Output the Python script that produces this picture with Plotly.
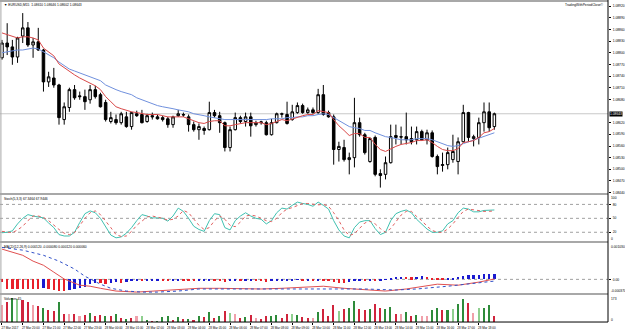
import plotly.graph_objects as go

W, H = 625, 331
R_MARGIN = 15

# ---------------- data ----------------
title_main = "EURUSD,M15  1.08610 1.08646 1.08602 1.08643"
title_stoch = "Stoch(5,3,3) 67.3464 67.9446"
title_macd = "MACD(12,26,9) 0.000120 -0.000080 0.000120 0.000060"
title_vol = "Volumes 45"
brand = "TradingWithPeriodClose\u00a9"

open_ = [1.08787,1.08825,1.08815,1.08789,1.08843,1.08864,1.08820,1.08828,1.08807,1.08725,
 1.08735,1.08717,1.08628,1.08659,1.08705,1.08689,1.08687,1.08679,1.08705,1.08692,
 1.08672,1.08623,1.08628,1.08620,1.08635,1.08610,1.08643,1.08641,1.08623,1.08638,
 1.08635,1.08633,1.08630,1.08615,1.08638,1.08641,1.08635,1.08615,1.08602,1.08605,
 1.08602,1.08646,1.08638,1.08620,1.08556,1.08602,1.08633,1.08623,1.08635,1.08615,
 1.08620,1.08620,1.08589,1.08620,1.08643,1.08641,1.08628,1.08646,1.08664,1.08646,
 1.08653,1.08646,1.08692,1.08646,1.08635,1.08551,1.08556,1.08525,1.08530,1.08620,
 1.08589,1.08520,1.08582,1.08489,1.08487,1.08517,1.08587,1.08584,1.08584,1.08579,
 1.08576,1.08597,1.08576,1.08594,1.08533,1.08510,1.08512,1.08525,1.08520,1.08571,
 1.08646,1.08579,1.08582,1.08620,1.08648,1.08610]
high = [1.08833,1.08876,1.08833,1.08841,1.08902,1.08879,1.08838,1.08864,1.08810,1.08751,
 1.08761,1.08720,1.08672,1.08710,1.08717,1.08700,1.08705,1.08717,1.08715,1.08697,
 1.08679,1.08648,1.08641,1.08648,1.08648,1.08648,1.08651,1.08653,1.08643,1.08646,
 1.08641,1.08638,1.08635,1.08638,1.08653,1.08646,1.08641,1.08623,1.08618,1.08610,
 1.08674,1.08653,1.08648,1.08623,1.08610,1.08646,1.08638,1.08646,1.08646,1.08625,
 1.08625,1.08625,1.08630,1.08646,1.08646,1.08674,1.08666,1.08672,1.08669,1.08659,
 1.08659,1.08707,1.08717,1.08651,1.08641,1.08571,1.08576,1.08543,1.08684,1.08633,
 1.08594,1.08582,1.08587,1.08500,1.08533,1.08615,1.08615,1.08610,1.08646,1.08610,
 1.08610,1.08602,1.08602,1.08600,1.08538,1.08543,1.08556,1.08589,1.08582,1.08666,
 1.08648,1.08589,1.08633,1.08672,1.08672,1.08646]
low = [1.08782,1.08794,1.08769,1.08774,1.08825,1.08815,1.08787,1.08805,1.08700,1.08712,
 1.08710,1.08615,1.08615,1.08648,1.08679,1.08679,1.08653,1.08669,1.08682,1.08659,
 1.08623,1.08618,1.08615,1.08615,1.08607,1.08602,1.08635,1.08618,1.08620,1.08628,
 1.08628,1.08623,1.08607,1.08607,1.08635,1.08635,1.08597,1.08597,1.08576,1.08589,
 1.08600,1.08633,1.08594,1.08546,1.08546,1.08600,1.08618,1.08610,1.08584,1.08610,
 1.08615,1.08587,1.08587,1.08618,1.08633,1.08615,1.08625,1.08643,1.08643,1.08643,
 1.08643,1.08643,1.08638,1.08633,1.08512,1.08520,1.08520,1.08487,1.08505,1.08584,
 1.08538,1.08517,1.08482,1.08453,1.08474,1.08515,1.08564,1.08564,1.08564,1.08564,
 1.08564,1.08574,1.08564,1.08530,1.08487,1.08494,1.08500,1.08517,1.08487,1.08569,
 1.08571,1.08559,1.08564,1.08597,1.08597,1.08602]
close = [1.08825,1.08815,1.08789,1.08838,1.08864,1.08820,1.08828,1.08807,1.08725,1.08738,
 1.08717,1.08633,1.08661,1.08705,1.08684,1.08687,1.08674,1.08705,1.08687,1.08661,
 1.08628,1.08633,1.08620,1.08643,1.08610,1.08646,1.08638,1.08620,1.08638,1.08635,
 1.08630,1.08628,1.08615,1.08635,1.08643,1.08640,1.08615,1.08602,1.08610,1.08600,
 1.08646,1.08638,1.08620,1.08556,1.08602,1.08633,1.08623,1.08635,1.08612,1.08620,
 1.08622,1.08589,1.08620,1.08643,1.08642,1.08618,1.08648,1.08664,1.08646,1.08653,
 1.08646,1.08692,1.08641,1.08635,1.08551,1.08559,1.08525,1.08530,1.08620,1.08589,
 1.08543,1.08579,1.08487,1.08484,1.08517,1.08584,1.08582,1.08583,1.08576,1.08571,
 1.08597,1.08576,1.08594,1.08533,1.08507,1.08512,1.08543,1.08546,1.08571,1.08646,
 1.08582,1.08584,1.08620,1.08648,1.08607,1.08643]

ma_fast = [1.08851,1.08846,1.08841,1.08838,1.08841,1.08841,1.08838,1.08833,1.08812,1.08802,
 1.08792,1.08771,1.08761,1.08751,1.08743,1.08735,1.08728,1.08723,1.08715,1.08705,
 1.08687,1.08674,1.08661,1.08656,1.08651,1.08648,1.08646,1.08643,1.08641,1.08641,
 1.08641,1.08638,1.08635,1.08635,1.08635,1.08635,1.08630,1.08625,1.08620,1.08618,
 1.08623,1.08625,1.08625,1.08612,1.08612,1.08615,1.08618,1.08620,1.08620,1.08620,
 1.08620,1.08615,1.08618,1.08623,1.08628,1.08625,1.08630,1.08635,1.08638,1.08641,
 1.08641,1.08651,1.08648,1.08646,1.08628,1.08612,1.08600,1.08587,1.08592,1.08592,
 1.08582,1.08582,1.08564,1.08551,1.08546,1.08553,1.08559,1.08564,1.08566,1.08569,
 1.08574,1.08574,1.08576,1.08569,1.08559,1.08551,1.08548,1.08548,1.08553,1.08569,
 1.08571,1.08574,1.08582,1.08594,1.08597,1.08605]
ma_slow = [1.08800,1.08802,1.08805,1.08807,1.08807,1.08810,1.08812,1.08810,1.08802,1.08794,
 1.08787,1.08776,1.08766,1.08758,1.08753,1.08748,1.08743,1.08738,1.08733,1.08728,
 1.08717,1.08710,1.08705,1.08700,1.08697,1.08692,1.08684,1.08679,1.08674,1.08669,
 1.08664,1.08661,1.08659,1.08656,1.08653,1.08651,1.08648,1.08643,1.08641,1.08638,
 1.08635,1.08633,1.08630,1.08628,1.08628,1.08628,1.08628,1.08628,1.08628,1.08628,
 1.08628,1.08628,1.08630,1.08630,1.08630,1.08633,1.08633,1.08635,1.08635,1.08638,
 1.08638,1.08641,1.08643,1.08641,1.08633,1.08625,1.08618,1.08610,1.08607,1.08605,
 1.08600,1.08600,1.08594,1.08589,1.08584,1.08582,1.08579,1.08576,1.08576,1.08576,
 1.08579,1.08579,1.08579,1.08576,1.08571,1.08566,1.08561,1.08559,1.08561,1.08566,
 1.08571,1.08574,1.08579,1.08584,1.08589,1.08594]

stoch_k = [19,20,23,38,50,58,55,53,51,40, 30,15,12,12,20,41,60,66,62,50,
 32,14,8,10,18,30,45,58,55,51, 51,50,44,55,72,65,50,33,26,22,
 45,60,58,30,25,45,55,62,55,50, 48,38,45,62,72,70,78,85,82,80,
 76,85,78,70,45,25,12,8,30,42, 45,45,28,15,20,45,60,65,68,62,
 48,38,27,20,20,23,38,45,62,72, 70,64,64,67,68,68]
stoch_d = [22,20,19,25,33,45,55,55,52,45, 35,26,18,15,19,35,50,62,66,58,
 45,30,15,11,12,22,35,44,53,55, 53,50,46,48,55,67,62,48,35,26,
 30,45,55,48,35,32,42,55,57,55, 50,45,43,50,62,70,73,78,82,82,
 80,79,80,76,62,45,25,13,17,28, 40,44,38,28,20,28,42,57,65,65,
 54,45,33,24,20,20,27,38,52,65, 70,68,66,65,65,66]
stoch_levels = [80, 50, 20]

macd_idx = [0,4,6,8,10,12,15,17,19,22,26,30,34,38,42,46,50,54,58,62,66,70,74,78,80,84,88,92,95]
macd_main = [0.00088,0.00070,0.00053,0.00041,0.00021,0.00001,-0.00017,-0.00020,-0.00026,-0.00034,
 -0.00037,-0.00034,-0.00031,-0.00026,-0.00026,-0.00028,-0.00028,-0.00026,-0.00023,-0.00020,
 -0.00026,-0.00031,-0.00034,-0.00028,-0.00023,-0.00014,-0.00017,-0.00008,0.00001]
sig_idx = [0,4,8,11,14,16,19,21,24,27,30,34,38,46,54,62,70,76,80,86,95]
macd_signal = [0.00093,0.00085,0.00070,0.00053,0.00030,0.00009,-0.00014,-0.00026,-0.00034,-0.00037,
 -0.00037,-0.00034,-0.00028,-0.00028,-0.00028,-0.00026,-0.00028,-0.00031,-0.00028,-0.00020,-0.00005]
macd_hist = [-0.00008,-0.00028,-0.00028,-0.00028,-0.00028,-0.00028,-0.00028,-0.00028,-0.00027,-0.00028,
 -0.00031,-0.00034,-0.00035,-0.00032,-0.00029,-0.00027,-0.00024,-0.00014,-0.00010,-0.00012,
 -0.00013,-0.00010,-0.00008,-0.00010,-0.00009,-0.00006,-0.00005,-0.00006,-0.00005,-0.00004,
 -0.00003,-0.00004,-0.00005,-0.00004,-0.00003,-0.00004,-0.00005,-0.00006,-0.00005,-0.00004,
 -0.00003,-0.00004,-0.00005,-0.00007,-0.00006,-0.00005,-0.00006,-0.00005,-0.00004,-0.00005,
 -0.00006,-0.00007,-0.00006,-0.00005,-0.00004,-0.00004,-0.00003,-0.00002,-0.00003,-0.00003,
 -0.00004,-0.00003,-0.00004,-0.00005,-0.00008,-0.00010,-0.00011,-0.00009,-0.00006,-0.00005,
 -0.00006,-0.00004,-0.00005,-0.00004,-0.00002,0.00004,0.00006,0.00007,0.00006,0.00005,
 0.00006,0.00008,0.00007,0.00004,0.00002,0.00002,0.00003,0.00003,0.00006,0.00010,
 0.00011,0.00011,0.00013,0.00014,0.00015,0.00016]
macd_hist_dir = ['r','r','r','r','r','r','r','r','b','r', 'r','r','r','b','b','b','b','b','b','r',
 'r','b','b','r','b','b','b','r','b','b', 'b','r','r','b','b','r','r','r','b','b',
 'b','r','r','r','b','b','r','b','b','r', 'r','r','b','b','b','b','b','b','r','b',
 'r','b','r','r','r','r','r','b','b','b', 'r','b','r','b','b','b','b','b','r','r',
 'b','b','r','r','r','r','b','b','b','b', 'b','b','b','b','b','b']

volume = [120,141,173,165,158,141,120,115,103,83, 78,141,60,60,60,45,53,65,45,53,
 40,45,60,28,20,28,40,45,15,5, 5,35,40,15,35,20,20,15,40,35,
 70,30,45,80,65,55,30,35,50,25, 20,45,40,50,25,60,55,50,35,25,
 25,75,90,40,120,80,90,100,150,90, 85,95,130,100,90,110,60,55,70,45,
 50,45,45,83,98,83,83,90,128,165, 135,68,98,103,120,45]
vol_kind = ['p','r','g','lg','r','r','p','r','g','r', 'r','g','r','p','r','p','r','g','r','r',
 'g','r','g','r','g','r','p','lg','g','r', 'g','g','g','r','g','r','g','r','g','r',
 'g','r','g','r','lg','p','r','g','r','p', 'r','r','g','g','r','r','lg','g','r','r',
 'p','g','r','r','r','lg','r','g','g','r', 'r','g','r','r','g','g','r','p','g','r',
 'g','p','p','g','g','r','g','lg','g','g', 'r','p','lg','g','g','r']
vol_max_label = 173

# price labels (1.08650 is hidden behind the current-price box in the original)
price_ticks = [1.08920,1.08890,1.08860,1.08830,1.08800,1.08770,1.08740,1.08710,1.08680,
 1.08620,1.08590,1.08560,1.08530,1.08500,1.08470,1.08440]
time_tick_idx = [0,4,8,12,16,20,24,28,32,36,40,44,48,52,56,60,64,68,72,76,80,84,88,92]
time_tick_text = ["27 Mar 2017","27 Mar 20:00","27 Mar 21:00","27 Mar 22:00","27 Mar 23:00",
 "28 Mar 00:00","28 Mar 01:00","28 Mar 02:00","28 Mar 03:00","28 Mar 04:00","28 Mar 05:00",
 "28 Mar 06:00","28 Mar 07:00","28 Mar 08:00","28 Mar 09:00","28 Mar 10:00","28 Mar 11:00",
 "28 Mar 12:00","28 Mar 13:00","28 Mar 14:00","28 Mar 15:00","28 Mar 16:00","28 Mar 17:00",
 "28 Mar 18:00"]

# ---------------- styling ----------------
FONT = "Liberation Sans"
FS = 3.3
vol_colors = {'g': '#2e8b3a', 'lg': '#8fcf8f', 'r': '#d0243c', 'p': '#f0a0aa'}
hist_colors = {'r': '#e8202a', 'b': '#1a1ad0'}
n = len(close)
x = list(range(n))

def dom(p_top, p_bot):
    return [1 - p_bot / H, 1 - p_top / H]

fig = go.Figure()

fig.add_trace(go.Candlestick(
    x=x, open=open_, high=high, low=low, close=close,
    increasing=dict(line=dict(color='black', width=1), fillcolor='white'),
    decreasing=dict(line=dict(color='black', width=1), fillcolor='black'),
    whiskerwidth=0, xaxis='x', yaxis='y', showlegend=False, hoverinfo='skip'))
fig.add_trace(go.Scatter(x=x, y=ma_slow, mode='lines', line=dict(color='#7090dd', width=1),
                         xaxis='x', yaxis='y', showlegend=False))
fig.add_trace(go.Scatter(x=x, y=ma_fast, mode='lines', line=dict(color='#d84848', width=1),
                         xaxis='x', yaxis='y', showlegend=False))

fig.add_trace(go.Scatter(x=x, y=stoch_k, mode='lines', line=dict(color='#40c0b0', width=1),
                         xaxis='x', yaxis='y2', showlegend=False))
fig.add_trace(go.Scatter(x=x, y=stoch_d, mode='lines', line=dict(color='#e06060', width=1, dash='dot'),
                         xaxis='x', yaxis='y2', showlegend=False))

fig.add_trace(go.Bar(x=x, y=macd_hist, marker=dict(color=[hist_colors[k] for k in macd_hist_dir], line_width=0),
                     width=0.45, xaxis='x', yaxis='y3', showlegend=False))
fig.add_trace(go.Scatter(x=macd_idx, y=macd_main, mode='lines', line=dict(color='#e05050', width=1),
                         xaxis='x', yaxis='y3', showlegend=False))
fig.add_trace(go.Scatter(x=sig_idx, y=macd_signal, mode='lines', line=dict(color='#3050c8', width=1, dash='dot'),
                         xaxis='x', yaxis='y3', showlegend=False))

fig.add_trace(go.Bar(x=x, y=volume, marker=dict(color=[vol_colors[k] for k in vol_kind], line_width=0),
                     width=0.3, xaxis='x', yaxis='y4', showlegend=False))

x0 = -2 / 5.2
x1 = (W - R_MARGIN - 2) / 5.2

axfont = dict(family=FONT, size=FS, color='black')
fig.update_layout(
    width=W, height=H, margin=dict(l=0, r=R_MARGIN, t=0, b=0),
    paper_bgcolor='white', plot_bgcolor='white', bargap=0,
    font=dict(family=FONT, size=FS, color='black'),
    xaxis=dict(range=[x0, x1], anchor='y4', showgrid=False, zeroline=False, showline=False,
               tickvals=time_tick_idx, ticktext=time_tick_text, ticks='outside', ticklen=2,
               tickcolor='black', tickfont=dict(family=FONT, size=3.0, color='black'),
               tickangle=0, ticklabelshift=8, ticklabelstandoff=0,
               rangeslider=dict(visible=False)),
    yaxis=dict(domain=dom(3, 194), range=[1.08438, 1.08928], side='right', showgrid=False,
               zeroline=False, tickvals=price_ticks, ticktext=[f"{v:.5f}" for v in price_ticks],
               ticks='outside', ticklen=2, tickcolor='black', tickfont=axfont, ticklabelstandoff=1),
    yaxis2=dict(domain=dom(195.7, 242.3), range=[0, 100], side='right', showgrid=False, zeroline=False,
                tickvals=stoch_levels, ticktext=[str(v) for v in stoch_levels],
                ticks='outside', ticklen=2, tickcolor='black', tickfont=axfont, anchor='x', ticklabelstandoff=1),
    yaxis3=dict(domain=dom(244, 294), range=[-0.00040, 0.00105], side='right', showgrid=False, zeroline=False,
                tickvals=[0.0], ticktext=["0.00"],
                ticks='outside', ticklen=2, tickcolor='black', tickfont=axfont, anchor='x', ticklabelstandoff=1),
    yaxis4=dict(domain=dom(296, 323), range=[0, 195], side='right', showgrid=False, zeroline=False,
                tickvals=[], ticks='', anchor='x'),
)

shapes = []
for (a, b) in [(0, 2), (193.5, 195.5), (241.8, 243.8), (293.8, 295.8)]:
    shapes.append(dict(type='rect', xref='paper', yref='paper', x0=0, x1=1,
                       y0=1 - b / H, y1=1 - a / H, fillcolor='#a8a8a8', line=dict(width=0), layer='above'))
shapes.append(dict(type='line', xref='paper', yref='paper', x0=1, x1=1, y0=1 - 323 / H, y1=1,
                   line=dict(color='black', width=1)))
shapes.append(dict(type='line', xref='paper', yref='paper', x0=0.0015, x1=0.0015, y0=1 - 323 / H, y1=1,
                   line=dict(color='#a8a8a8', width=1)))
shapes.append(dict(type='line', xref='paper', yref='paper', x0=0, x1=1, y0=1 - 323 / H, y1=1 - 323 / H,
                   line=dict(color='black', width=1)))
shapes.append(dict(type='line', xref='paper', yref='y', x0=0, x1=1, y0=close[-1], y1=close[-1],
                   line=dict(color='#c8c8c8', width=1), layer='below'))
for lv in stoch_levels:
    shapes.append(dict(type='line', xref='paper', yref='y2', x0=0, x1=1, y0=lv, y1=lv,
                       line=dict(color='#a0a0a0', width=1, dash='dot'), layer='below'))
shapes.append(dict(type='line', xref='paper', yref='y3', x0=0, x1=1, y0=0, y1=0,
                   line=dict(color='#a0a0a0', width=1, dash='dot'), layer='below'))
fig.update_layout(shapes=shapes)

ann = []
PW = W - R_MARGIN
def label(text, px, py, anchor='left', color='black', bg=None):
    d = dict(text=text, xref='paper', yref='paper', x=px / PW, y=1 - py / H,
             xanchor=anchor, yanchor='middle', showarrow=False, borderpad=0,
             font=dict(family=FONT, size=FS, color=color))
    if bg:
        d['bgcolor'] = bg
    ann.append(d)

label("\u25bc " + title_main, 3, 5.5)
label(brand, 607, 5.5, 'right')
label(title_stoch, 3, 199.5)
label(title_macd, 3, 247.5)
label(title_vol, 3, 299.5)
# right-side scale end labels of the sub-windows
label("100", 612, 198.5)
label("0", 612, 240)
label("0.001030", 612, 247.5)
label("-0.000370", 612, 291.5)
label(str(vol_max_label), 612, 299.5)
label("0", 612, 320.5)
ann.append(dict(text=f"{close[-1]:.5f}", xref='paper', yref='y', x=1.002, y=close[-1],
                xanchor='left', yanchor='middle', showarrow=False, bgcolor='black', borderpad=0,
                font=dict(family=FONT, size=FS, color='white')))
fig.update_layout(annotations=ann)

fig.write_html("out.html")
